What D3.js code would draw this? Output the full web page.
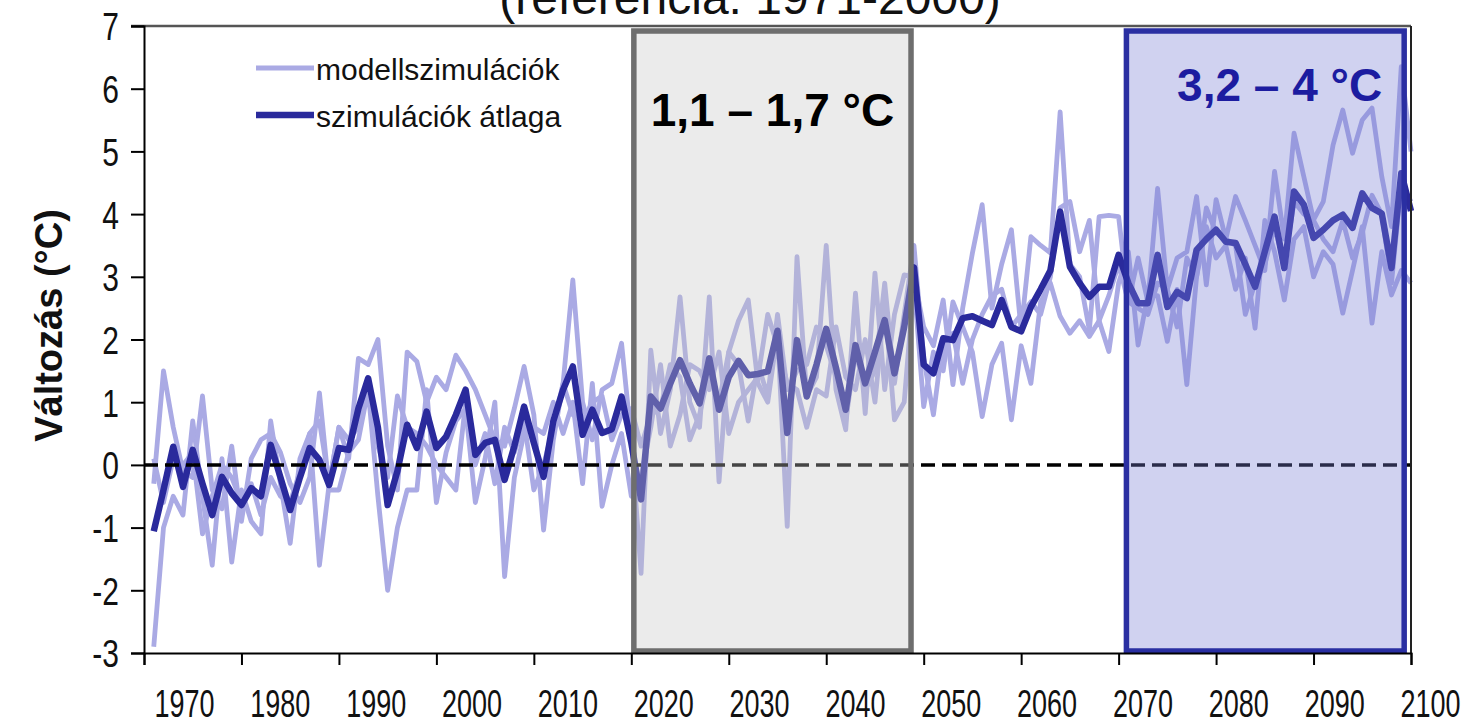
<!DOCTYPE html>
<html>
<head>
<meta charset="utf-8">
<script src="https://cdn.jsdelivr.net/npm/d3@7"></script>
<style>
  html, body { margin: 0; padding: 0; background: #fff; }
  svg { display: block; }
  text { font-family: "Liberation Sans", Arial, sans-serif; }
</style>
</head>
<body>
<svg id="chart" width="1463" height="724"></svg>
<script>
// Annual temperature change relative to 1971-2000, years 1971-2100
const years = d3.range(1971, 2101);

// Ensemble mean ("szimulációk átlaga")
const meanSeries = [
  -1.06,-0.4,0.29,-0.35,0.24,-0.3,-0.8,-0.19,-0.45,-0.64,
  -0.37,-0.5,0.32,-0.2,-0.72,-0.2,0.27,0.08,-0.32,0.27,
  0.24,0.9,1.38,0.6,-0.64,-0.1,0.64,0.27,0.85,0.27,
  0.45,0.8,1.2,0.16,0.35,0.4,-0.24,0.3,0.93,0.35,
  -0.19,0.7,1.2,1.57,0.48,0.88,0.51,0.57,1.09,0.35,
  -0.55,1.09,0.9,1.3,1.67,1.3,0.98,1.7,0.88,1.4,
  1.66,1.43,1.45,1.49,2.14,0.51,1.99,1.09,1.6,2.17,
  1.55,0.88,1.91,1.3,1.8,2.31,1.46,2.2,3.15,1.6,
  1.46,2.02,1.99,2.34,2.37,2.3,2.23,2.63,2.2,2.13,
  2.52,2.8,3.1,4.04,3.16,2.9,2.68,2.84,2.84,3.35,
  2.9,2.58,2.58,3.35,2.52,2.76,2.66,3.43,3.6,3.75,
  3.56,3.54,3.2,2.84,3.4,3.96,3.14,4.36,4.15,3.62,
  3.75,3.9,3.99,3.78,4.33,4.1,4.01,3.14,4.65,4.05
];

// Individual model simulations ("modellszimulációk")
const model1 = [
  -2.9,-1.0,-0.5,-0.8,0.7,-0.5,-1.6,0.1,-1.55,-0.4,
  -0.9,-1.1,0.7,-0.3,-1.25,0.1,0.5,-1.6,-0.3,0.6,
  0.1,1.7,1.6,2.0,0.3,-0.4,1.8,1.65,1.0,1.4,
  1.2,1.75,1.5,1.2,0.8,0.4,0.3,0.9,1.57,0.8,
  -1.04,0.4,1.3,2.95,1.0,0.4,1.2,1.3,1.94,0.4,
  -1.73,1.83,0.5,1.2,2.68,1.0,0.6,2.68,-0.27,1.8,
  2.3,2.63,1.3,1.0,2.1,-0.98,3.32,1.1,1.4,3.5,
  1.2,0.56,2.74,0.82,3.06,1.2,2.4,3.03,3.0,2.2,
  1.9,2.63,1.28,2.5,3.38,4.15,2.5,3.2,3.75,2.15,
  3.64,3.5,3.38,5.63,3.2,3.0,2.15,3.96,3.98,3.96,
  2.6,3.3,2.6,4.41,2.8,3.3,3.4,4.28,2.87,4.23,
  3.6,4.28,3.9,3.5,3.1,4.68,3.6,5.29,4.6,3.91,
  4.2,5.1,5.66,4.97,5.5,5.69,4.6,3.8,6.35,5.0
];
const model2 = [
  -0.3,1.5,0.6,-0.1,-0.2,1.1,-0.4,-0.7,0.3,-0.9,
  0.1,0.4,0.5,0.2,-0.3,-0.6,-0.2,1.15,-0.4,-0.4,
  0.2,0.4,1.2,-0.5,-2.0,-1.0,-0.4,-0.4,1.2,-0.6,
  0.2,0.7,0.9,-0.6,0.1,1.0,-1.78,-0.2,0.5,0.6,
  0.5,1.0,0.5,1.0,-0.3,1.3,-0.66,0.0,0.5,-0.5,
  -0.2,0.6,1.6,0.3,0.8,1.6,1.5,1.2,1.8,0.5,
  1.0,1.2,1.4,2.4,1.9,1.3,1.2,0.6,1.2,1.1,
  2.2,1.4,1.2,2.0,1.0,2.6,0.72,1.0,2.9,0.93,
  1.8,1.5,2.6,2.2,1.8,0.77,1.6,1.94,0.72,1.9,
  1.3,2.6,2.9,2.37,2.1,2.3,2.05,2.3,1.81,2.9,
  3.4,1.91,2.7,2.7,1.97,2.8,1.28,3.0,3.8,3.3,
  3.5,2.8,3.3,2.18,3.9,3.4,2.63,3.6,3.8,3.0,
  3.4,3.2,2.42,3.1,3.8,2.26,3.4,2.71,3.1,2.9
];
const model3 = [
  0.1,-0.6,0.1,0.0,0.2,-1.1,-0.5,0.0,-0.2,-0.6,
  -0.3,-0.8,-0.2,-0.5,-0.6,-0.1,0.5,0.7,-0.3,0.6,
  0.4,0.6,1.3,0.3,-0.2,1.1,0.6,0.5,0.3,0.0,
  -0.2,-0.4,1.0,0.0,0.5,-0.3,0.6,0.2,0.7,-0.4,
  0.0,0.6,1.3,0.8,0.7,1.0,1.1,0.4,0.8,0.9,
  0.3,0.8,0.9,1.6,1.4,0.4,0.8,1.5,1.0,1.8,
  1.6,0.7,1.6,1.1,2.4,1.2,1.5,1.6,2.2,1.9,
  1.4,0.7,1.8,1.2,1.5,2.9,1.3,2.4,3.5,1.7,
  0.8,2.0,2.1,1.3,2.0,2.4,2.7,2.8,2.2,2.4,
  2.6,2.4,3.0,4.1,4.2,3.4,3.9,2.3,2.7,3.2,
  2.6,2.5,2.4,2.9,2.8,2.2,3.3,3.0,4.1,3.7,
  3.6,3.5,2.4,2.9,3.2,3.8,3.2,4.2,4.0,3.9,
  3.6,3.4,3.9,3.3,3.7,4.3,4.0,2.9,4.5,4.2
];

// Axis ticks
const xTicks = d3.range(1970, 2101, 10);
const yTicks = d3.range(-3, 8, 1);

// Highlighted periods and their warming ranges
const periodStart = [2020.26, 2070.8];
const periodEnd = [2048.7, 2099.3];
const periodLabels = ["1,1 – 1,7 °C", "3,2 – 4 °C"];

// Text
const titleText = "(referencia: 1971-2000)";
const yTitle = "Változás (°C)";
const legendLabels = ["modellszimulációk", "szimulációk átlaga"];

// ---------------------------------------------------------------
const svg = d3.select("#chart");
const x = d3.scaleLinear().domain([1970, 2100]).range([144, 1411]);
const y = d3.scaleLinear().domain([-3, 7]).range([653, 26]);
// tick labels sit on their own, slightly tighter, row
const xLabel = d3.scaleLinear().domain([1970, 2100]).range([184, 1430]);

const lightColor = "#aaaae4";
const darkColor = "#2a2a9c";

const line = d3.line()
  .x((d, i) => x(years[i]))
  .y(d => y(d));

// model runs
const plot = svg.append("g");
[model1, model2, model3].forEach(series => {
  plot.append("path")
    .datum(series)
    .attr("d", line)
    .attr("fill", "none")
    .attr("stroke", lightColor)
    .attr("stroke-width", 4.8)
    .attr("stroke-linejoin", "round");
});

// ensemble mean
plot.append("path")
  .datum(meanSeries)
  .attr("d", line)
  .attr("fill", "none")
  .attr("stroke", darkColor)
  .attr("stroke-width", 6.5)
  .attr("stroke-linejoin", "round");

// zero reference line
plot.append("line")
  .attr("x1", x(1970)).attr("x2", x(2100))
  .attr("y1", y(0)).attr("y2", y(0))
  .attr("stroke", "#000")
  .attr("stroke-width", 3.5)
  .attr("stroke-dasharray", "14,7");

// period boxes (translucent overlays)
const boxFill = ["rgb(197,197,197)", "rgb(121,126,212)"];
const boxStroke = ["#6e6e6e", "#2a2fa2"];
const boxText = ["#000", "#1c1ca0"];
const inset = 5;
periodStart.forEach((s, i) => {
  const x0 = x(s), x1 = x(periodEnd[i]);
  const y0 = y(7) + inset, y1 = y(-3) - 2;
  svg.append("rect")
    .attr("x", x0).attr("y", y0)
    .attr("width", x1 - x0).attr("height", y1 - y0)
    .attr("fill", boxFill[i]).attr("fill-opacity", 0.35)
    .attr("stroke", boxStroke[i]).attr("stroke-width", 5.5);
});

// period labels
svg.append("text")
  .attr("x", (x(periodStart[0]) + x(periodEnd[0])) / 2)
  .attr("y", 126)
  .attr("text-anchor", "middle")
  .attr("font-size", 46).attr("font-weight", "bold")
  .attr("fill", boxText[0])
  .text(periodLabels[0]);
svg.append("text")
  .attr("x", x(periodEnd[1]) - 22)
  .attr("y", 101)
  .attr("text-anchor", "end")
  .attr("font-size", 46).attr("font-weight", "bold")
  .attr("fill", boxText[1])
  .text(periodLabels[1]);

// frame: top and right
svg.append("line")
  .attr("x1", x(1970) - 13).attr("x2", x(2100))
  .attr("y1", y(7)).attr("y2", y(7))
  .attr("stroke", "#555").attr("stroke-width", 2.5);
svg.append("line")
  .attr("x1", x(2100)).attr("x2", x(2100))
  .attr("y1", y(7)).attr("y2", y(-3))
  .attr("stroke", "#222").attr("stroke-width", 2);

// y axis
const yFont = 30, yStretch = 1.3;
const yAxis = svg.append("g")
  .attr("transform", `translate(${x(1970)},0)`)
  .call(d3.axisLeft(y).tickValues(yTicks).tickSize(13).tickPadding(12)
    .tickFormat(d => String(d)));
yAxis.select(".domain").attr("stroke", "#000").attr("stroke-width", 2);
yAxis.selectAll(".tick line").attr("stroke", "#000").attr("stroke-width", 2);
yAxis.selectAll("text")
  .attr("x", 0).attr("y", 0).attr("dy", 0)
  .attr("transform", `translate(-25,${0.716 * yFont * yStretch / 2}) scale(1,${yStretch})`)
  .attr("font-size", yFont)
  .attr("font-family", "Liberation Sans, Arial, sans-serif")
  .attr("fill", "#111");

// x axis
const xFont = 27, xStretch = 1.45;
const xAxis = svg.append("g")
  .attr("transform", `translate(0,${y(-3)})`)
  .call(d3.axisBottom(x).tickValues(xTicks).tickSize(12)
    .tickFormat(d3.format("d")));
xAxis.select(".domain").attr("stroke", "#000").attr("stroke-width", 2);
xAxis.selectAll(".tick line").attr("stroke", "#000").attr("stroke-width", 2);
xAxis.selectAll("text")
  .attr("x", 0).attr("y", 0).attr("dy", 0)
  .attr("transform", d => `translate(${xLabel(d) - x(d)},64) scale(1,${xStretch})`)
  .attr("font-size", xFont)
  .attr("font-family", "Liberation Sans, Arial, sans-serif")
  .attr("fill", "#111");

// legend
const legendY = [68, 115];
const legendStroke = [lightColor, darkColor];
const legendWidth = [5, 6.5];
legendLabels.forEach((lab, i) => {
  svg.append("line")
    .attr("x1", 256).attr("x2", 314)
    .attr("y1", legendY[i]).attr("y2", legendY[i])
    .attr("stroke", legendStroke[i]).attr("stroke-width", legendWidth[i]);
  svg.append("text")
    .attr("x", 316).attr("y", legendY[i] + 12)
    .attr("font-size", 30)
    .attr("fill", "#111")
    .text(lab);
});

// axis title
svg.append("text")
  .attr("transform", `translate(62,${(y(7) + y(-3)) / 2 - 14}) rotate(-90)`)
  .attr("text-anchor", "middle")
  .attr("font-size", 38).attr("font-weight", "bold")
  .attr("fill", "#111")
  .text(yTitle);

// chart subtitle (top edge)
svg.append("text")
  .attr("x", 750).attr("y", 14)
  .attr("text-anchor", "middle")
  .attr("font-size", 48)
  .attr("fill", "#111")
  .text(titleText);
</script>
</body>
</html>
